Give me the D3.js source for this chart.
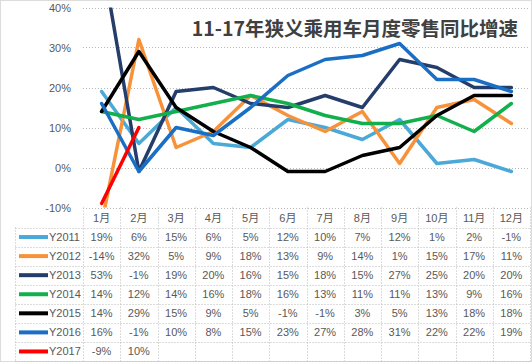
<!DOCTYPE html>
<html>
<head>
<meta charset="utf-8">
<script src="https://cdn.jsdelivr.net/npm/d3@7"></script>
<style>
  body { margin: 0; background: #fff; }
  text { font-family: "Liberation Sans", "Noto Sans CJK SC", sans-serif; }
</style>
</head>
<body>
<div id="chart"></div>
<script>
// chart data
var months = ["1月", "2月", "3月", "4月", "5月", "6月", "7月", "8月", "9月", "10月", "11月", "12月"];
var seriesNames = ["Y2011", "Y2012", "Y2013", "Y2014", "Y2015", "Y2016", "Y2017"];
var y2011 = [19, 6, 15, 6, 5, 12, 10, 7, 12, 1, 2, -1];
var y2012 = [-14, 32, 5, 9, 18, 13, 9, 14, 1, 15, 17, 11];
var y2013 = [53, -1, 19, 20, 16, 15, 18, 15, 27, 25, 20, 20];
var y2014 = [14, 12, 14, 16, 18, 16, 13, 11, 11, 13, 9, 16];
var y2015 = [14, 29, 15, 9, 5, -1, -1, 3, 5, 13, 18, 18];
var y2016 = [16, -1, 10, 8, 15, 23, 27, 28, 31, 22, 22, 19];
var y2017 = [-9, 10];
var yTicks = [-10, 0, 10, 20, 30, 40];
var colors = ["#4aa9d6", "#f7923a", "#243d6b", "#12b04c", "#000000", "#1a6fc4", "#ff0000"];

var allValues = [y2011, y2012, y2013, y2014, y2015, y2016, y2017];
var series = seriesNames.map((name, i) => ({ name: name, values: allValues[i], color: colors[i] }));

// Step 1: set up
var svgWidth = 532;
var svgHeight = 362;
var plot = { left: 83, right: 530, top: 7.5, bottom: 207.5 };
var legendLeft = 15.5;
var headerH = 20;
var rowH = (361 - plot.bottom - headerH) / series.length;
var textColor = "#595959";
var gridColor = "#b8b8b8";

var svg = d3.select("#chart")
    .append("svg")
    .attr("width", svgWidth)
    .attr("height", svgHeight);

// outer border
svg.append("rect")
    .attr("x", 0.5).attr("y", 0.5)
    .attr("width", svgWidth - 1).attr("height", svgHeight - 1)
    .attr("fill", "none")
    .attr("stroke", gridColor)
    .attr("stroke-dasharray", "1,1");

// Step 2: scales
var xScale = d3.scaleBand()
    .domain(months)
    .range([plot.left, plot.right]);

var yScale = d3.scaleLinear()
    .domain([-10, 40])
    .range([plot.bottom, plot.top]);

// gridlines
svg.append("g")
    .selectAll("line")
    .data(yTicks)
    .enter()
    .append("line")
    .attr("x1", plot.left)
    .attr("x2", plot.right)
    .attr("y1", d => Math.round(yScale(d)) + 0.5)
    .attr("y2", d => Math.round(yScale(d)) + 0.5)
    .attr("stroke", gridColor)
    .attr("stroke-dasharray", "1,2");

// y axis labels
var leftAxis = d3.axisLeft(yScale)
    .tickValues(yTicks)
    .tickSize(0)
    .tickPadding(12)
    .tickFormat(d => d + "%");

var yAxis = svg.append("g")
    .attr("transform", `translate(${plot.left}, 0)`)
    .call(leftAxis);
yAxis.select(".domain").remove();
yAxis.selectAll("text")
    .attr("fill", textColor)
    .style("font-size", "11px")
    .style("font-family", "Liberation Sans");

// Step 3: data table grid
var tableTop = plot.bottom;
var tableBottom = 361;
var grid = svg.append("g")
    .attr("stroke", gridColor)
    .attr("stroke-dasharray", "1,2")
    .attr("fill", "none");

// vertical column separators
var colEdges = months.map(m => xScale(m)).concat([plot.right]);
grid.selectAll("line.v")
    .data(colEdges)
    .enter()
    .append("line")
    .attr("x1", d => Math.round(d) + 0.5)
    .attr("x2", d => Math.round(d) + 0.5)
    .attr("y1", tableTop)
    .attr("y2", tableBottom);

// legend column left edge
grid.append("line")
    .attr("x1", legendLeft).attr("x2", legendLeft)
    .attr("y1", tableTop + headerH).attr("y2", tableBottom);

// horizontal row separators
var rowEdges = d3.range(series.length + 1).map(i => tableTop + headerH + i * rowH);
grid.selectAll("line.h")
    .data(rowEdges)
    .enter()
    .append("line")
    .attr("x1", legendLeft)
    .attr("x2", plot.right)
    .attr("y1", d => Math.round(d) + 0.5)
    .attr("y2", d => Math.round(d) + 0.5);

// month labels in header
svg.append("g")
    .selectAll("text")
    .data(months)
    .enter()
    .append("text")
    .attr("x", d => xScale(d) + xScale.bandwidth() / 2)
    .attr("y", tableTop + headerH / 2 + 4)
    .attr("text-anchor", "middle")
    .attr("fill", textColor)
    .style("font-size", "11px")
    .text(d => d);

// table rows
var rows = svg.append("g")
    .selectAll("g")
    .data(series)
    .enter()
    .append("g")
    .attr("transform", (d, i) => `translate(0, ${tableTop + headerH + i * rowH + rowH / 2})`);

rows.append("line")
    .attr("x1", 19)
    .attr("x2", 48)
    .attr("y1", 0)
    .attr("y2", 0)
    .attr("stroke", d => d.color)
    .attr("stroke-width", 4);

rows.append("text")
    .attr("x", 49)
    .attr("y", 4)
    .attr("fill", textColor)
    .style("font-size", "11px")
    .text(d => d.name);

rows.selectAll("text.val")
    .data(d => d.values)
    .enter()
    .append("text")
    .attr("class", "val")
    .attr("x", (d, i) => xScale(months[i]) + xScale.bandwidth() / 2)
    .attr("y", 4)
    .attr("text-anchor", "middle")
    .attr("fill", textColor)
    .style("font-size", "11px")
    .text(d => d + "%");

// Step 4: lines, clipped to plot area
svg.append("clipPath")
    .attr("id", "plotClip")
    .append("rect")
    .attr("x", plot.left)
    .attr("y", plot.top)
    .attr("width", plot.right - plot.left)
    .attr("height", plot.bottom - plot.top);

var line = d3.line()
    .x((d, i) => xScale(months[i]) + xScale.bandwidth() / 2)
    .y(d => yScale(d));

svg.append("g")
    .attr("clip-path", "url(#plotClip)")
    .selectAll("path")
    .data(series)
    .enter()
    .append("path")
    .attr("d", d => line(d.values))
    .attr("fill", "none")
    .attr("stroke", d => d.color)
    .attr("stroke-width", 3.5)
    .attr("stroke-linejoin", "round")
    .attr("stroke-linecap", "round");

// title
svg.append("text")
    .attr("x", 518)
    .attr("y", 36)
    .attr("text-anchor", "end")
    .attr("fill", "#404040")
    .style("font-family", "'Noto Sans CJK SC', sans-serif")
    .style("font-size", "19.5px")
    .style("font-weight", "bold")
    .text("11-17年狭义乘用车月度零售同比增速");
</script>
</body>
</html>
